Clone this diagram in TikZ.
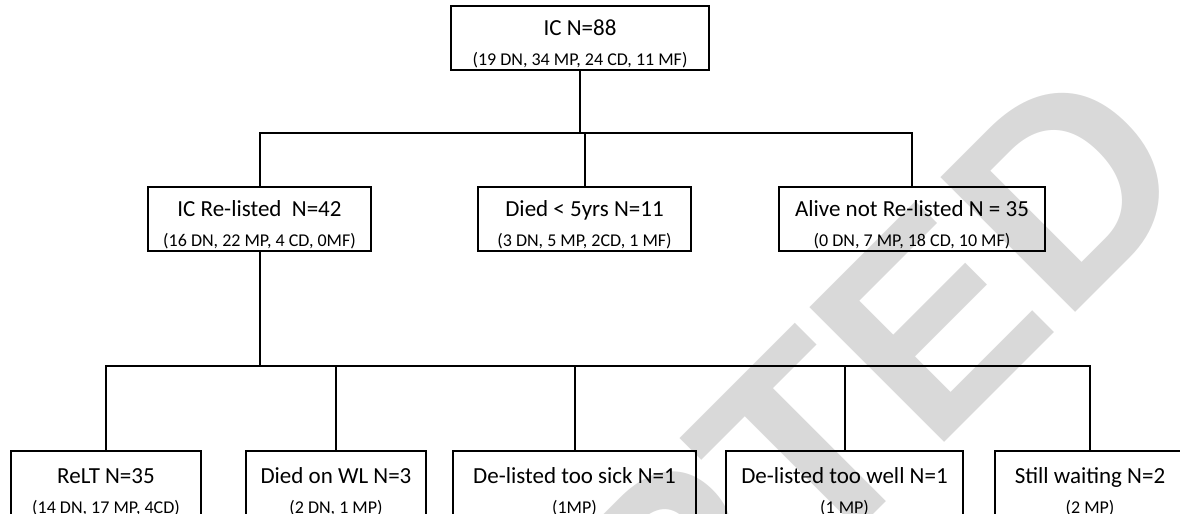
\documentclass[tikz,border=0pt]{standalone}
\usepackage{fontspec}
\setmainfont{Carlito}
\newfontfamily\markfont{Liberation Sans}
\usepackage{tikz}
\usetikzlibrary{calc}
\definecolor{markgray}{RGB}{217,217,217}
\newcommand{\countsfont}{\fontsize{9}{15}\selectfont}
\newcommand{\boxtext}[2]{\rule{0pt}{14.75pt}#1\\{\countsfont #2}\rule[-2.25pt]{0pt}{2.25pt}}

\begin{document}
\begin{tikzpicture}[x=0.5pt, y=-0.5pt,
    font=\fontsize{11.5}{15}\selectfont,
    block/.style={draw, line width=1pt, align=center, inner sep=0pt,
      minimum height=32pt},
    leaf/.style={block, minimum height=35pt},
    link/.style={line width=1pt},
    stamp/.style={markgray, rotate=45,
      font=\markfont\bfseries\fontsize{138.5}{138.5}\selectfont}
  ]
  \useasboundingbox (0,0) rectangle (1180,514);
  \clip (0,0) rectangle (1180,514);

  % watermark behind the chart
  \node[stamp] (accepted) at (598,655) {ACCEPTED};

  \node[block, minimum width=129pt] (ic) at (580,38)
    {\boxtext{IC N=88}{(19 DN, 34 MP, 24 CD, 11 MF)}};

  \node[block, minimum width=111.5pt] (relisted) at (259.5,219)
    {\boxtext{IC Re-listed~~N=42}{(16 DN, 22 MP, 4 CD, 0MF)}};
  \node[block, minimum width=106.5pt] (died) at (584.5,219)
    {\boxtext{Died < 5yrs N=11}{(3 DN, 5 MP, 2CD, 1 MF)}};
  \node[block, minimum width=133pt] (alive) at (912,219)
    {\boxtext{Alive not Re-listed N = 35}{(0 DN, 7 MP, 18 CD, 10 MF)}};

  \node[leaf, minimum width=95pt] (relt) at (106,486)
    {\boxtext{ReLT N=35}{(14 DN, 17 MP, 4CD)}};
  \node[leaf, minimum width=90pt] (wl) at (336,486)
    {\boxtext{Died on WL N=3}{(2 DN, 1 MP)}};
  \node[leaf, minimum width=121.5pt] (sick) at (574.5,486)
    {\boxtext{De-listed too sick N=1}{(1MP)}};
  \node[leaf, minimum width=118.5pt] (well) at (844.5,486)
    {\boxtext{De-listed too well N=1}{(1 MP)}};
  \node[leaf, minimum width=95pt] (waiting) at (1090,486)
    {\boxtext{Still waiting N=2}{(2 MP)}};

  \coordinate (split1) at (0,133);
  \coordinate (split2) at (0,366);

  \draw[link] (ic.south) -- (ic.south |- split1);
  \draw[link] (relisted.north) |- (alive.north |- split1) -- (alive.north);
  \draw[link] (died.north) -- (died.north |- split1);

  \draw[link] (relisted.south) -- (relisted.south |- split2);
  \draw[link] (relt.north) |- (waiting.north |- split2) -- (waiting.north);
  \foreach \n in {wl, sick, well}
    \draw[link] (\n.north) -- (\n.north |- split2);
\end{tikzpicture}
\end{document}
